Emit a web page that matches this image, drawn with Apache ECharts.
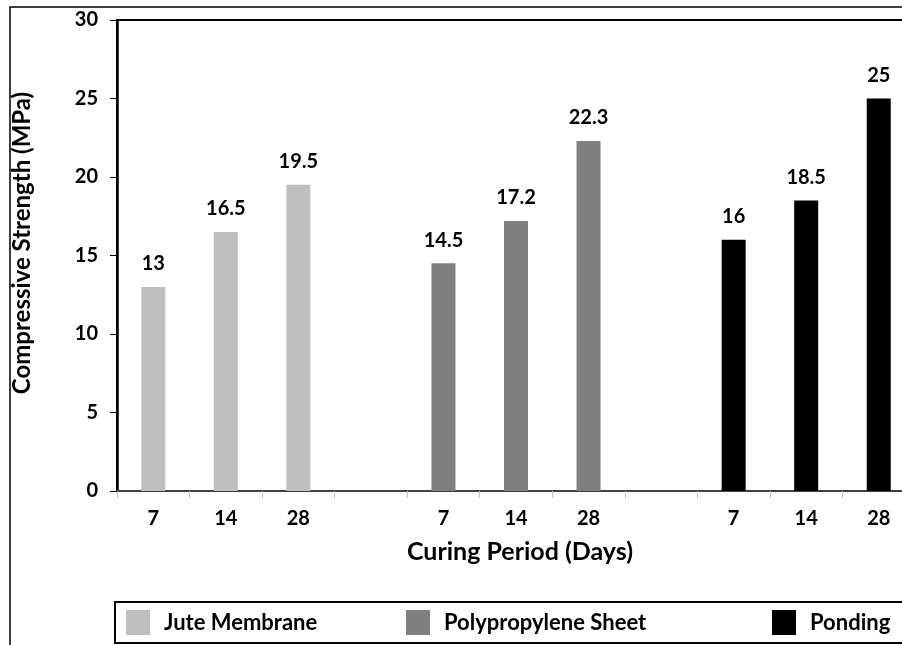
<!DOCTYPE html>
<html>
<head>
<meta charset="utf-8">
<script src="https://cdn.jsdelivr.net/npm/echarts@6/dist/echarts.min.js"></script>
<style>
  html, body { margin: 0; padding: 0; background: #ffffff; overflow: hidden; }
  /* the figure runs past the right edge of the window and is cut there */
  #chart { width: 940px; height: 645px; }
</style>
</head>
<body>
<div id="chart"></div>
<script>
// Curing period categories, with empty slots separating the three curing methods
var categories = ['7', '14', '28', '', '7', '14', '28', '', '7', '14', '28'];

// Compressive strength (MPa) per curing method
var juteMembrane = [13, 16.5, 19.5, null, null, null, null, null, null, null, null];
var polypropyleneSheet = [null, null, null, null, 14.5, 17.2, 22.3, null, null, null, null];
var ponding = [null, null, null, null, null, null, null, null, 16, 18.5, 25];

var seriesNames = ['Jute Membrane', 'Polypropylene Sheet', 'Ponding'];
var seriesColors = ['#bfbfbf', '#7f7f7f', '#000000'];

var yTicks = { min: 0, max: 30, interval: 5 };

var FONT = 'Lato';

function makeSeries(name, data, color) {
  return {
    name: name,
    type: 'bar',
    data: data.map(function (v) { return v === null ? '-' : v; }),
    barWidth: 24,
    barGap: '-100%',
    itemStyle: { color: color },
    label: {
      show: true,
      position: 'top',
      distance: 13,
      color: '#000',
      fontFamily: FONT,
      fontWeight: 'bold',
      fontSize: 20
    }
  };
}

function makeLegend(name, left) {
  return {
    data: [name],
    left: left,
    top: 610,
    icon: 'rect',
    itemWidth: 24,
    itemHeight: 25,
    padding: 0,
    selectedMode: false,
    textStyle: {
      color: '#000',
      fontFamily: FONT,
      fontWeight: 'bold',
      fontSize: 22,
      padding: [0, 0, 0, 9]
    }
  };
}

var chart = echarts.init(document.getElementById('chart'), null, { renderer: 'canvas' });

chart.setOption({
  backgroundColor: '#ffffff',
  animation: false,
  grid: {
    left: 117,
    top: 20,
    width: 798,
    height: 471,
    show: true,
    borderColor: '#000',
    borderWidth: 2,
    backgroundColor: 'transparent'
  },
  xAxis: {
    type: 'category',
    data: categories,
    boundaryGap: true,
    axisLine: { lineStyle: { color: '#404040', width: 2 } },
    axisTick: { show: true, length: 7, lineStyle: { color: '#bfbfbf', width: 1 } },
    axisLabel: {
      interval: 0,
      margin: 18,
      color: '#000',
      fontFamily: FONT,
      fontWeight: 'bold',
      fontSize: 20
    },
    splitLine: { show: false }
  },
  yAxis: {
    type: 'value',
    min: yTicks.min,
    max: yTicks.max,
    interval: yTicks.interval,
    axisLine: { show: true, lineStyle: { color: '#000', width: 2.5 } },
    axisTick: { show: true, length: 7, lineStyle: { color: '#000', width: 1 } },
    axisLabel: {
      margin: 19,
      color: '#000',
      fontFamily: FONT,
      fontWeight: 'bold',
      fontSize: 20
    },
    splitLine: { show: false }
  },
  legend: [
    makeLegend(seriesNames[0], 126),
    makeLegend(seriesNames[1], 406),
    makeLegend(seriesNames[2], 772)
  ],
  graphic: [
    {
      // outer frame of the figure
      type: 'rect',
      silent: true,
      shape: { x: 10, y: 7, width: 1000, height: 700 },
      style: { fill: 'none', stroke: '#000', lineWidth: 1.5 },
      z: -1
    },
    {
      // legend box
      type: 'rect',
      silent: true,
      shape: { x: 115, y: 602, width: 900, height: 41 },
      style: { fill: 'none', stroke: '#000', lineWidth: 2 }
    },
    {
      type: 'text',
      silent: true,
      x: 22,
      y: 243,
      rotation: Math.PI / 2,
      style: {
        text: 'Compressive Strength (MPa)',
        fill: '#000',
        font: 'bold 24px ' + FONT,
        textAlign: 'center',
        textVerticalAlign: 'middle'
      }
    },
    {
      type: 'text',
      silent: true,
      x: 520,
      y: 552,
      style: {
        text: 'Curing Period (Days)',
        fill: '#000',
        font: 'bold 25px ' + FONT,
        textAlign: 'center',
        textVerticalAlign: 'middle'
      }
    }
  ],
  series: [
    makeSeries(seriesNames[0], juteMembrane, seriesColors[0]),
    makeSeries(seriesNames[1], polypropyleneSheet, seriesColors[1]),
    makeSeries(seriesNames[2], ponding, seriesColors[2])
  ]
});
</script>
</body>
</html>
